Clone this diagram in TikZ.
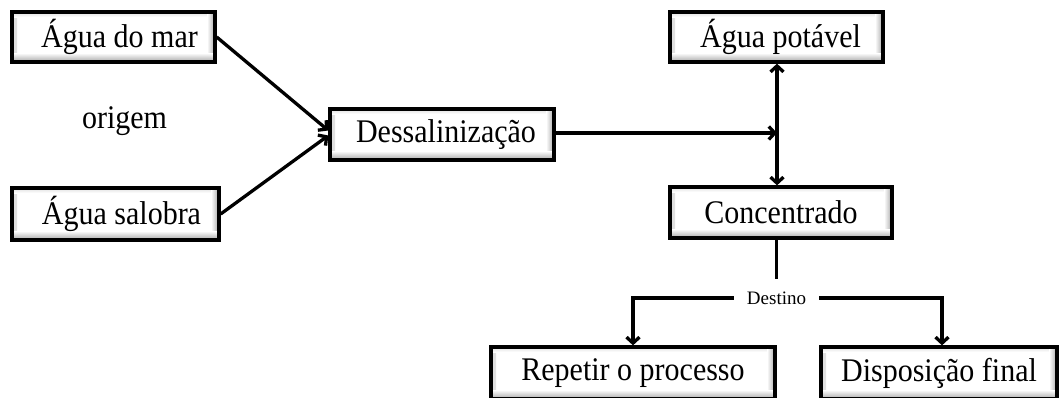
\documentclass[tikz,border=0pt]{standalone}
\usepackage{fontspec}
\setmainfont{Liberation Serif}
\usetikzlibrary{arrows.meta}
% box captions are set slightly taller than wide
\newcommand{\tallcap}[1]{\scalebox{1}[1.1]{#1}}
\begin{document}
\begin{tikzpicture}[x=1pt,y=-1pt,
  box/.style={draw=black, line width=3.3pt, fill=white, inner sep=0pt,
    font=\fontsize{30}{36}\selectfont,
    path picture={
      \shade[left color=gray!25, right color=white]
        (path picture bounding box.north west) rectangle ([xshift=5pt]path picture bounding box.south west);
      \shade[top color=gray!25, bottom color=white]
        (path picture bounding box.north west) rectangle ([yshift=-5pt]path picture bounding box.north east);
      \shade[left color=white, right color=gray!70]
        ([xshift=-8pt]path picture bounding box.north east) rectangle (path picture bounding box.south east);
      \shade[top color=white, bottom color=gray!70]
        ([yshift=9pt]path picture bounding box.south west) rectangle (path picture bounding box.south east);
    }},
  link/.style={line width=3.3pt},
  arr/.style={link, -{Straight Barb[length=6pt,width=13pt]}},
  plain/.style={font=\fontsize{30}{36}\selectfont, inner sep=0pt},
  small/.style={font=\fontsize{19}{23}\selectfont, inner xsep=13pt, inner ysep=2pt}
]
\useasboundingbox (0,0) rectangle (1059,397);

% sources
\node[box, minimum width=203pt, minimum height=50pt] (mar) at (113.5,37) {\hspace{12pt}\tallcap{Água do mar}};
\node[box, minimum width=207pt, minimum height=52pt] (salobra) at (115.5,214) {\hspace{12pt}\tallcap{Água salobra}};
\node[plain] (origem) at (124.5,121) {\tallcap{origem}};

% treatment
\node[box, minimum width=224pt, minimum height=51pt] (dessal) at (442,134.5) {\hspace{8pt}\tallcap{Dessalinização}};

% products
\node[box, minimum width=213pt, minimum height=50pt] (potavel) at (776.5,37) {\hspace{8pt}\tallcap{Água potável}};
\node[box, minimum width=222pt, minimum height=51pt] (conc) at (781,212.5) {\tallcap{Concentrado}};

% destinations
\node[small] (destino) at (776.5,298) {Destino};
\node[box, minimum width=284pt, minimum height=52pt] (repetir) at (633,373) {\tallcap{Repetir o processo}};
\node[box, minimum width=236pt, minimum height=52pt] (disp) at (939,373) {\tallcap{Disposição final}};

\coordinate (junc) at (777,133);
\coordinate (cstop) at (776.5,279);

% connectors
\draw[arr] (mar.east) -- ([yshift=4pt]dessal.west);
\draw[arr] (salobra.east) -- ([yshift=-1pt]dessal.west);
\draw[arr] (dessal.east |- junc) -- (junc);
\draw[arr] (junc) -- (junc |- potavel.south);
\draw[arr] (junc) -- (junc |- conc.north);
\draw[link] (cstop |- conc.south) -- (cstop);
\draw[arr] (destino.west) -| (repetir.north);
\draw[arr] (destino.east) -| ([xshift=3pt]disp.north);
\end{tikzpicture}
\end{document}
